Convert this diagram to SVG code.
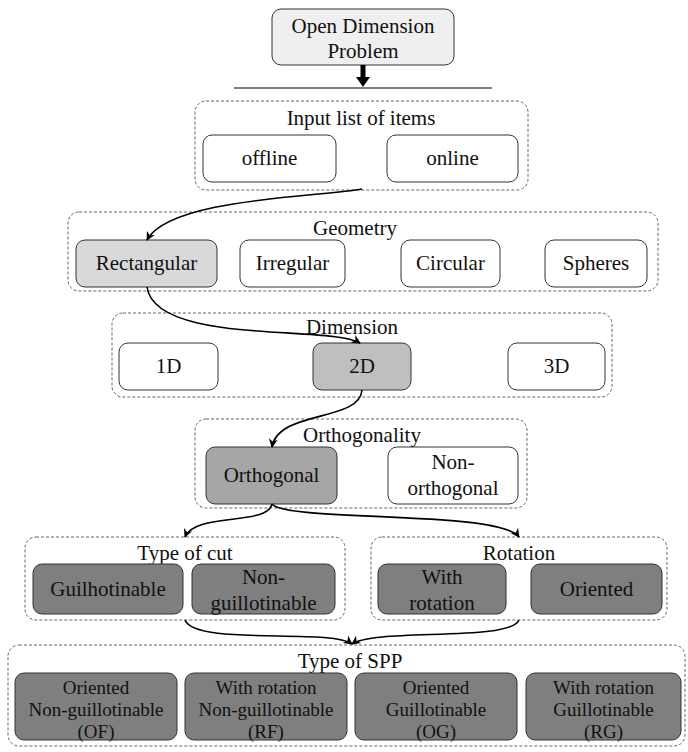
<svg xmlns="http://www.w3.org/2000/svg" width="688" height="752" viewBox="0 0 688 752">
<defs>
<style>
text{font-family:'Liberation Serif','Times New Roman',serif;font-size:21px;fill:#111;text-anchor:middle}
.sm{font-size:19px}
.grp{fill:none;stroke:#666;stroke-width:1;stroke-dasharray:3,2}
.box{stroke:#333;stroke-width:1}
.w{fill:#fff}
.c1{fill:#d9d9d9}
.c2{fill:#bfbfbf}
.c3{fill:#a6a6a6}
.c4{fill:#7f7f7f}
.con{fill:none;stroke:#000;stroke-width:1.6}
</style>
<marker id="ah" viewBox="0 0 10 10" refX="9" refY="5" markerWidth="9" markerHeight="9" markerUnits="userSpaceOnUse" orient="auto">
<path d="M0,0 L10,5 L0,10 L3,5 z" fill="#000"/>
</marker>
</defs>

<g id="top">
<rect class="box" x="272" y="9" width="182" height="56" rx="9" fill="#efefef"/>
<text x="363" y="33">Open Dimension</text>
<text x="363" y="58">Problem</text>
</g>
<g id="split">
<line x1="363" y1="65" x2="363" y2="79" stroke="#000" stroke-width="5"/>
<polygon points="356,77 370,77 363,87" fill="#000"/>
<line x1="234" y1="88" x2="492" y2="88" stroke="#000" stroke-width="1.2"/>
</g>

<g id="input">
<rect class="grp" x="195" y="101" width="333" height="89" rx="11"/>
<text x="361" y="125">Input list of items</text>
<g id="offline"><rect class="box w" x="203" y="135" width="133" height="47" rx="9"/><text x="269.5" y="165">offline</text></g>
<g id="online"><rect class="box w" x="387" y="135" width="131" height="47" rx="9"/><text x="452.5" y="165">online</text></g>
</g>

<g id="geometry">
<rect class="grp" x="68" y="212" width="590" height="79" rx="11"/>
<text x="355" y="235">Geometry</text>
<g id="rect"><rect class="box c1" x="76" y="240" width="141" height="47" rx="9"/><text x="146.5" y="270">Rectangular</text></g>
<g id="irregular"><rect class="box w" x="240" y="240" width="105" height="47" rx="9"/><text x="292.5" y="270">Irregular</text></g>
<g id="circular"><rect class="box w" x="401" y="240" width="99" height="47" rx="9"/><text x="450.5" y="270">Circular</text></g>
<g id="spheres"><rect class="box w" x="545" y="240" width="102" height="47" rx="9"/><text x="596" y="270">Spheres</text></g>
</g>

<g id="dimension">
<rect class="grp" x="112" y="313" width="500" height="84" rx="11"/>
<text x="352" y="334">Dimension</text>
<g id="d1"><rect class="box w" x="119" y="343" width="99" height="47" rx="9"/><text x="168.5" y="373">1D</text></g>
<g id="d2"><rect class="box c2" x="313" y="343" width="98" height="47" rx="9"/><text x="362" y="373">2D</text></g>
<g id="d3"><rect class="box w" x="508" y="343" width="97" height="47" rx="9"/><text x="556.5" y="373">3D</text></g>
</g>

<g id="orthogonality">
<rect class="grp" x="195" y="419" width="332" height="89" rx="11"/>
<text x="362" y="442">Orthogonality</text>
<g id="orth"><rect class="box c3" x="206" y="447" width="131" height="57" rx="9"/><text x="271.5" y="482">Orthogonal</text></g>
<g id="nonorth"><rect class="box w" x="388" y="447" width="130" height="57" rx="9"/><text x="453" y="469">Non-</text><text x="453" y="495">orthogonal</text></g>
</g>

<g id="typeofcut">
<rect class="grp" x="25" y="537" width="320" height="83" rx="11"/>
<text x="185" y="560">Type of cut</text>
<g id="guil"><rect class="box c4" x="33" y="564" width="150" height="50" rx="9"/><text x="108" y="596">Guilhotinable</text></g>
<g id="nonguil"><rect class="box c4" x="192" y="564" width="143" height="50" rx="9"/><text x="263.5" y="584">Non-</text><text x="263.5" y="610">guillotinable</text></g>
</g>

<g id="rotation">
<rect class="grp" x="371" y="537" width="296" height="83" rx="11"/>
<text x="519" y="560">Rotation</text>
<g id="withrot"><rect class="box c4" x="378" y="564" width="128" height="50" rx="9"/><text x="442" y="584">With</text><text x="442" y="610">rotation</text></g>
<g id="oriented"><rect class="box c4" x="531" y="564" width="131" height="50" rx="9"/><text x="596.5" y="596">Oriented</text></g>
</g>

<g id="spp">
<rect class="grp" x="8" y="645" width="677" height="101" rx="11"/>
<text x="350" y="668">Type of SPP</text>
<g id="of"><rect class="box c4" x="15" y="673" width="162" height="67" rx="9"/>
<text class="sm" x="96" y="694">Oriented</text><text class="sm" x="96" y="716">Non-guillotinable</text><text class="sm" x="96" y="738">(OF)</text></g>
<g id="rf"><rect class="box c4" x="185" y="673" width="162" height="67" rx="9"/>
<text class="sm" x="266" y="694">With rotation</text><text class="sm" x="266" y="716">Non-guillotinable</text><text class="sm" x="266" y="738">(RF)</text></g>
<g id="og"><rect class="box c4" x="355" y="673" width="162" height="67" rx="9"/>
<text class="sm" x="436" y="694">Oriented</text><text class="sm" x="436" y="716">Guillotinable</text><text class="sm" x="436" y="738">(OG)</text></g>
<g id="rg"><rect class="box c4" x="526" y="673" width="155" height="67" rx="9"/>
<text class="sm" x="603.5" y="694">With rotation</text><text class="sm" x="603.5" y="716">Guillotinable</text><text class="sm" x="603.5" y="738">(RG)</text></g>
</g>

<g id="connectors">
<path class="con" marker-end="url(#ah)" d="M362,189 C320,197 170,198 147,240"/>
<path class="con" marker-end="url(#ah)" d="M147,287 C155,345 330,325 360,343"/>
<path class="con" marker-end="url(#ah)" d="M362,390 C360,422 278,410 272,447"/>
<path class="con" marker-end="url(#ah)" d="M272,504 C268,526 195,512 185,537"/>
<path class="con" marker-end="url(#ah)" d="M272,504 C285,522 500,510 519,537"/>
<path class="con" marker-end="url(#ah)" d="M185,620 C195,646 330,628 352,644"/>
<path class="con" marker-end="url(#ah)" d="M519,620 C510,642 375,628 352,644"/>
</g>
</svg>
